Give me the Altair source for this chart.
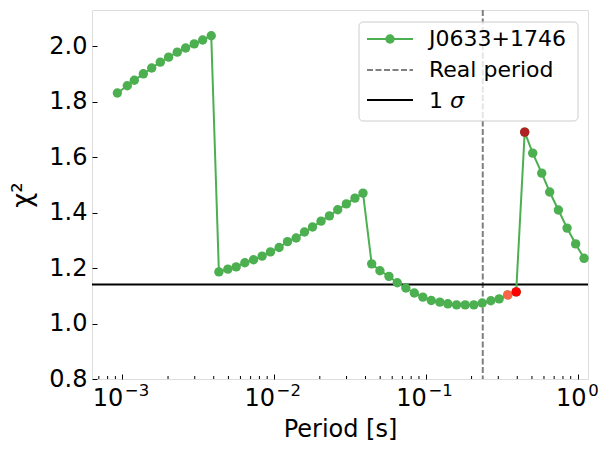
import altair as alt
import pandas as pd

# ---------------- data ----------------
period = [9.27e-4, 1.078e-3, 1.199e-3, 1.375e-3, 1.561e-3, 1.778e-3, 2.018e-3,
          2.301e-3, 2.612e-3, 2.977e-3, 3.382e-3, 3.852e-3,
          4.326e-3, 4.956e-3, 5.623e-3, 6.412e-3, 7.318e-3, 8.337e-3, 9.46e-3,
          1.079e-2, 1.225e-2, 1.396e-2, 1.585e-2, 1.790e-2, 2.038e-2, 2.314e-2,
          2.624e-2, 2.992e-2, 3.409e-2, 3.852e-2,
          4.394e-2, 4.98e-2, 5.71e-2, 6.48e-2, 7.38e-2, 8.39e-2, 9.55e-2,
          0.1085, 0.1236, 0.1395, 0.1592, 0.1815, 0.2070, 0.2350, 0.2679,
          0.3041, 0.3464, 0.3935,
          0.4479, 0.5058, 0.5797, 0.6544, 0.7465, 0.8518, 0.970, 1.102]
chi2 = [1.831, 1.857, 1.877, 1.900, 1.921, 1.942, 1.960, 1.978, 1.993, 2.008,
        2.022, 2.037,
        1.186, 1.196, 1.204, 1.219, 1.230, 1.243, 1.258, 1.274, 1.295, 1.308,
        1.330, 1.348, 1.369, 1.388, 1.410, 1.431, 1.452, 1.470,
        1.215, 1.190, 1.170, 1.147, 1.128, 1.110, 1.095, 1.083, 1.077, 1.071,
        1.067, 1.067, 1.067, 1.074, 1.082, 1.089, 1.103, 1.114,
        1.690, 1.614, 1.542, 1.474, 1.409, 1.344, 1.287, 1.235]

highlight_period = [0.3464, 0.3935, 0.4479]
highlight_chi2 = [1.103, 1.114, 1.690]
highlight_color = ["#FF6347", "#FF0000", "#B22222"]

real_period = 0.237
sigma_level = 1.141

legend_labels = ["J0633+1746", "Real period", "1 σ"]

x_ticks = [0.001, 0.01, 0.1, 1.0]
x_tick_base = ["10", "10", "10", "10"]
x_tick_exp = ["−3", "−2", "−1", "0"]
x_minor_ticks = [0.0007, 0.0008, 0.0009,
                 0.002, 0.003, 0.004, 0.005, 0.006, 0.007, 0.008, 0.009,
                 0.02, 0.03, 0.04, 0.05, 0.06, 0.07, 0.08, 0.09,
                 0.2, 0.3, 0.4, 0.5, 0.6, 0.7, 0.8, 0.9]
y_ticks = [0.8, 1.0, 1.2, 1.4, 1.6, 1.8, 2.0]

# ---------------- styling ----------------
W, H = 496, 369
GREEN = "#4CAF50"
FONT = "DejaVu Sans"
PT = 88

df = pd.DataFrame({"period": period, "chi2": chi2})
hdf = pd.DataFrame({"period": highlight_period, "chi2": highlight_chi2,
                    "c": highlight_color})
tdf = pd.DataFrame({"period": x_ticks, "base": x_tick_base, "exp": x_tick_exp})
one = pd.DataFrame({"a": [0]})

xscale = alt.Scale(type="log", domain=[6.31e-4, 1.17], nice=False)
yscale = alt.Scale(domain=[0.8, 2.13], nice=False, zero=False)

xaxis = alt.Axis(values=x_ticks, labels=False,
                 tickSize=5, offset=-5, domain=False, grid=False,
                 tickColor="black",
                 title="Period [s]", titleFontSize=24, titleFont=FONT,
                 titleFontWeight="normal", titleColor="black",
                 titleBaseline="alphabetic", titleY=62)
yaxis = alt.Axis(values=y_ticks, format=".1f",
                 tickSize=5, offset=-5, domain=False, grid=False,
                 tickColor="black", labelColor="black",
                 labelFontSize=24, labelFont=FONT, labelPadding=5,
                 labelFlush=False, labelOverlap=False,
                 title="χ²", titleFontSize=26, titleFont=FONT,
                 titleFontWeight="normal", titleColor="black", titlePadding=13)

X = alt.X("period:Q", scale=xscale, axis=xaxis)
Y = alt.Y("chi2:Q", scale=yscale, axis=yaxis)

vline = alt.Chart(pd.DataFrame({"period": [real_period]})).mark_rule(
    color="#7f7f7f", strokeWidth=2, strokeDash=[6, 2.5]).encode(x=X)
hline = alt.Chart(pd.DataFrame({"chi2": [sigma_level]})).mark_rule(
    color="black", strokeWidth=2).encode(y=Y)

minor = alt.Chart(pd.DataFrame({"period": x_minor_ticks})).mark_rule(
    color="black", strokeWidth=1).encode(x=X, y=alt.value(H), y2=alt.value(H - 3))

# tick labels "10" + superscript exponent, centred on the tick as a whole
neg = "length(datum.exp) > 1"
pos = "length(datum.exp) == 1"


def base_layer(flt, dx):
    return alt.Chart(tdf).transform_filter(flt).mark_text(
        align="right", baseline="alphabetic", fontSize=24, font=FONT,
        color="black", dx=dx).encode(x=X, y=alt.value(H + 27), text="base:N")


def exp_layer(flt, dx):
    return alt.Chart(tdf).transform_filter(flt).mark_text(
        align="left", baseline="alphabetic", fontSize=16.5, font=FONT,
        color="black", dx=dx).encode(x=X, y=alt.value(H + 17), text="exp:N")


ticklabels = [base_layer(neg, 1), exp_layer(neg, 2.5),
              base_layer(pos, 9), exp_layer(pos, 10.5)]

line = alt.Chart(df).mark_line(color=GREEN, strokeWidth=2).encode(x=X, y=Y)
pts = alt.Chart(df).mark_point(filled=True, color=GREEN, size=PT, opacity=1).encode(x=X, y=Y)
hpts = alt.Chart(hdf).mark_point(filled=True, size=PT, opacity=1).encode(
    x=X, y=Y, fill=alt.Fill("c:N", scale=None))

# ---------------- legend (upper right) ----------------
box = alt.Chart(one).mark_rect(fill="white", fillOpacity=0.8, stroke="#cccccc",
                               strokeWidth=1, cornerRadius=4).encode(
    x=alt.value(267), x2=alt.value(486), y=alt.value(12), y2=alt.value(111))
lg1 = alt.Chart(one).mark_rule(color=GREEN, strokeWidth=2).encode(
    x=alt.value(275), x2=alt.value(321), y=alt.value(29))
lg1p = alt.Chart(one).mark_point(filled=True, color=GREEN, size=PT, opacity=1).encode(
    x=alt.value(298), y=alt.value(29))
lg2 = alt.Chart(one).mark_rule(color="#7f7f7f", strokeWidth=2, strokeDash=[6, 2.5]).encode(
    x=alt.value(275), x2=alt.value(321), y=alt.value(60))
lg3 = alt.Chart(one).mark_rule(color="black", strokeWidth=2).encode(
    x=alt.value(275), x2=alt.value(321), y=alt.value(90))
texts = []
for lab, yy in zip(legend_labels[:2], [36, 67]):
    texts.append(alt.Chart(one).mark_text(text=lab, align="left", baseline="alphabetic",
                                          fontSize=22, font=FONT, color="black").encode(
        x=alt.value(337), y=alt.value(yy)))
num, sym = legend_labels[2].split(" ")
texts.append(alt.Chart(one).mark_text(text=num, align="left", baseline="alphabetic",
                                      fontSize=22, font=FONT, color="black").encode(
    x=alt.value(337), y=alt.value(98)))
texts.append(alt.Chart(one).mark_text(text=sym, align="left", baseline="alphabetic",
                                      fontSize=22, font=FONT, fontStyle="italic",
                                      color="black").encode(
    x=alt.value(358), y=alt.value(98)))

chart = alt.layer(vline, hline, minor, *ticklabels, line, pts, hpts,
                  box, lg1, lg1p, lg2, lg3, *texts).properties(
    width=W, height=H,
    autosize=alt.AutoSizeParams(type="none"),
    padding={"left": 84, "top": 2, "right": 15, "bottom": 64},
).configure_view(stroke="black", strokeWidth=1.2).configure(background="white")

chart.save("out.html", embed_options={"renderer": "svg", "actions": False})
